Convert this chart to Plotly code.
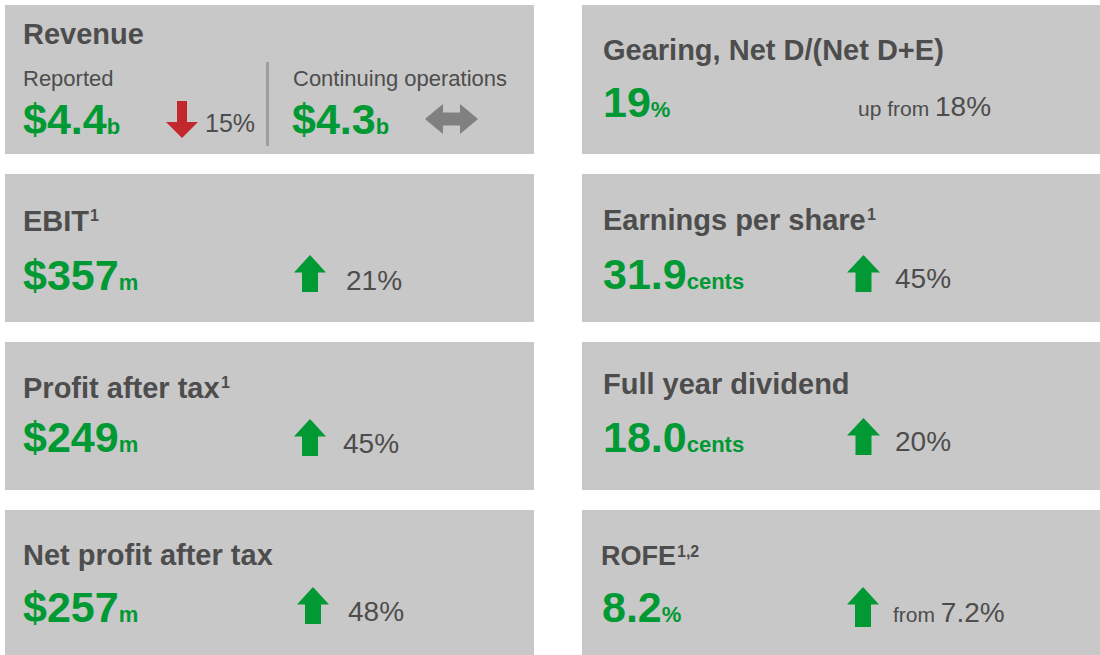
import plotly.graph_objects as go

# ---------------- data ----------------
tile_titles = ["Revenue", "Gearing, Net D/(Net D+E)", "EBIT", "Earnings per share",
               "Profit after tax", "Full year dividend", "Net profit after tax", "ROFE"]
title_notes = ["", "", "1", "1", "1", "", "", "1,2"]
kpi_values = ["$4.4", "19", "$357", "31.9", "$249", "18.0", "$257", "8.2"]
kpi_units = ["b", "%", "m", "cents", "m", "cents", "m", "%"]
change_dirs = ["down", "none", "up", "up", "up", "up", "up", "up"]
change_prefixes = ["", "up from", "", "", "", "", "", "from"]
change_values = ["15%", "18%", "21%", "45%", "45%", "20%", "48%", "7.2%"]
revenue_sublabels = ["Reported", "Continuing operations"]
cont_value = "$4.3"
cont_unit = "b"
cont_dir = "flat"

# ---------------- layout / style ----------------
W, H = 1100, 655
FONT = "Liberation Sans, Arial, sans-serif"
TILE = "#C8C8C8"
DARK = "#4D4D4D"
GREEN = "#009933"
RED = "#C1272D"
GREY_ARROW = "#808080"
DIVIDER = "#9E9E9E"

col_x = [(5, 534), (582, 1100)]
row_y = [(5, 154), (174, 322), (342, 490), (510, 655)]

# per tile: title(x, baseline, size), value(x, baseline), arrow box (x0,x1,top,bottom), change(x, baseline)
tile_layout = [
    dict(title=(23, 44, 29), value=(23, 134), arrow=(166, 198, 101, 138), change=(205, 132)),
    dict(title=(603, 60, 29), value=(603, 117), arrow=None, change=(858, 116)),
    dict(title=(23, 231, 29), value=(23, 290), arrow=(294, 326, 255, 292), change=(346, 290)),
    dict(title=(603, 230, 29), value=(603, 289), arrow=(847, 880, 255, 292), change=(895, 288)),
    dict(title=(23, 398, 29), value=(23, 452), arrow=(294, 326, 419, 456), change=(343, 453)),
    dict(title=(603, 394, 29), value=(603, 452), arrow=(847, 880, 418, 455), change=(895, 451)),
    dict(title=(23, 565, 29), value=(23, 622), arrow=(297, 329, 587, 624), change=(348, 621)),
    dict(title=(601, 565, 27), value=(602, 622), arrow=(847, 879, 587, 627), change=(893, 622)),
]
SUB_POS = [(23, 86), (293, 86)]
CONT_VALUE_POS = (292, 134)
DIVIDER_POS = (267.5, 62, 146)
FLAT_ARROW = (425, 478, 104, 134)

VALUE_SIZE = 43
UNIT_SIZE = 22
CHANGE_SIZE = 28
PREFIX_SIZE = 21
SUB_SIZE = 22
REV_CHANGE_SIZE = 25
NOTE_SIZE = 16
DESC = 0.212   # font descent ratio (Liberation Sans)
CAP = 0.716    # cap height ratio

# Advance widths (1/1000 em) of the bold sans face, used to place footnote marks
BOLD_W = {" ": 278, "a": 556, "c": 556, "e": 556, "f": 333, "g": 611, "h": 611, "i": 278,
          "n": 611, "o": 611, "p": 611, "r": 389, "s": 556, "t": 333, "x": 556, "u": 611,
          "l": 278, "y": 556, "d": 611, "v": 556, "E": 667, "B": 722, "I": 278, "T": 611,
          "P": 667, "R": 722, "O": 778, "F": 611, "N": 722}


def bold_width(s, size):
    return sum(BOLD_W.get(ch, 556) for ch in s) * size / 1000.0


fig = go.Figure()
fig.add_trace(go.Scatter(x=[0, W], y=[0, H], mode="markers",
                         marker=dict(opacity=0), hoverinfo="skip", showlegend=False))

shapes = []
annotations = []


def text_ann(x, baseline, html, size, color, bold=False):
    txt = f"<b>{html}</b>" if bold else html
    annotations.append(dict(
        x=x, y=baseline + DESC * size, xref="x", yref="y",
        xanchor="left", yanchor="bottom", text=txt, showarrow=False,
        borderpad=0, borderwidth=0, align="left",
        font=dict(family=FONT, size=size, color=color)))


def vertical_arrow(box, direction, color, head, shaft):
    x0, x1, yt, yb = box
    cx = (x0 + x1) / 2
    s = shaft / 2
    if direction == "up":
        hy = yt + head
        pts = [(cx, yt), (x1, hy), (cx + s, hy), (cx + s, yb), (cx - s, yb), (cx - s, hy), (x0, hy)]
    else:
        hy = yb - head
        pts = [(cx, yb), (x1, hy), (cx + s, hy), (cx + s, yt), (cx - s, yt), (cx - s, hy), (x0, hy)]
    path = "M " + " L ".join(f"{px},{py}" for px, py in pts) + " Z"
    shapes.append(dict(type="path", path=path, xref="x", yref="y",
                       fillcolor=color, line=dict(width=0), layer="above"))


def double_arrow(box, color, head, shaft):
    x0, x1, yt, yb = box
    cy = (yt + yb) / 2
    s = shaft / 2
    pts = [(x0, cy), (x0 + head, yt), (x0 + head, cy - s), (x1 - head, cy - s), (x1 - head, yt),
           (x1, cy), (x1 - head, yb), (x1 - head, cy + s), (x0 + head, cy + s), (x0 + head, yb)]
    path = "M " + " L ".join(f"{px},{py}" for px, py in pts) + " Z"
    shapes.append(dict(type="path", path=path, xref="x", yref="y",
                       fillcolor=color, line=dict(width=0), layer="above"))


for i in range(len(tile_titles)):
    col, row = i % 2, i // 2
    x0, x1 = col_x[col]
    y0, y1 = row_y[row]
    shapes.append(dict(type="rect", x0=x0, x1=x1, y0=y0, y1=y1, xref="x", yref="y",
                       fillcolor=TILE, line=dict(width=0), layer="below"))
    lay = tile_layout[i]

    # title
    tx, tb, ts = lay["title"]
    text_ann(tx, tb, tile_titles[i], ts, DARK, bold=True)
    # footnote mark (superscript) placed right after the title
    if title_notes[i]:
        nx = tx + bold_width(tile_titles[i], ts) + 1
        nb = tb - CAP * ts + CAP * NOTE_SIZE - 1
        text_ann(nx, nb, title_notes[i], NOTE_SIZE, DARK, bold=True)

    # main value + unit
    v = f"{kpi_values[i]}<span style='font-size:{UNIT_SIZE}px'>{kpi_units[i]}</span>"
    text_ann(lay["value"][0], lay["value"][1], v, VALUE_SIZE, GREEN, bold=True)

    # change indicator
    if change_dirs[i] == "up":
        vertical_arrow(lay["arrow"], "up", GREEN, head=17.5, shaft=16)
    elif change_dirs[i] == "down":
        vertical_arrow(lay["arrow"], "down", RED, head=16, shaft=10)

    size = REV_CHANGE_SIZE if i == 0 else CHANGE_SIZE
    c = change_values[i]
    if change_prefixes[i]:
        c = f"<span style='font-size:{PREFIX_SIZE}px'>{change_prefixes[i]} </span>" + c
    text_ann(lay["change"][0], lay["change"][1], c, size, DARK)

# revenue tile extras
for (sx, sb), lbl in zip(SUB_POS, revenue_sublabels):
    text_ann(sx, sb, lbl, SUB_SIZE, DARK)
cv = f"{cont_value}<span style='font-size:{UNIT_SIZE}px'>{cont_unit}</span>"
text_ann(CONT_VALUE_POS[0], CONT_VALUE_POS[1], cv, VALUE_SIZE, GREEN, bold=True)
dx, dy0, dy1 = DIVIDER_POS
shapes.append(dict(type="line", x0=dx, x1=dx, y0=dy0, y1=dy1, xref="x", yref="y",
                   line=dict(color=DIVIDER, width=3), layer="above"))
if cont_dir == "flat":
    double_arrow(FLAT_ARROW, GREY_ARROW, head=18, shaft=13)

fig.update_layout(
    width=W, height=H, margin=dict(l=0, r=0, t=0, b=0),
    paper_bgcolor="white", plot_bgcolor="white",
    xaxis=dict(range=[0, W], visible=False, fixedrange=True),
    yaxis=dict(range=[H, 0], visible=False, fixedrange=True),
    shapes=shapes, annotations=annotations, showlegend=False,
    font=dict(family=FONT, color=DARK),
)

fig.write_html("out.html", config={"displayModeBar": False},
               post_script="document.body.style.margin='0';document.body.style.overflow='hidden';")
